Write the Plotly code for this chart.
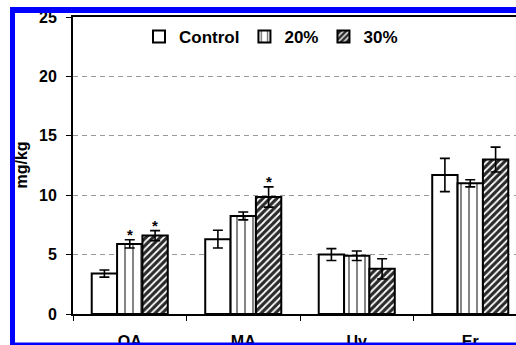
import plotly.graph_objects as go

categories = ["OA", "MA", "Uv", "Er"]
series_names = ["Control", "20%", "30%"]
control_vals = [3.4, 6.3, 5.0, 11.7]
control_err = [0.3, 0.75, 0.5, 1.4]
p20_vals = [5.9, 8.25, 4.9, 11.0]
p20_err = [0.35, 0.33, 0.4, 0.3]
p30_vals = [6.6, 9.85, 3.8, 13.0]
p30_err = [0.42, 0.85, 0.85, 1.05]
# significance marks: (series index, category index)
stars = [(1, 0), (2, 0), (2, 1)]
y_ticks = [0, 5, 10, 15, 20, 25]

values = [control_vals, p20_vals, p30_vals]
errors = [control_err, p20_err, p30_err]

FONT = "Liberation Sans, Arial, sans-serif"
W, H = 516, 345
L, T, B = 73, 17, 31
PW, PH = W - L, H - T - B
CAT_PX = 113.5
BARGAP = 0.33

styles = [
    dict(color="white", pattern=dict(shape="")),
    dict(color="white", pattern=dict(shape="|", fgcolor="black", bgcolor="white",
                                      size=8, solidity=0.2, fgopacity=0.6)),
    dict(color="#2a2a2a", pattern=dict(shape="/", fgcolor="white", bgcolor="#2a2a2a",
                                        size=5, solidity=0.35)),
]

fig = go.Figure()
for i, name in enumerate(series_names):
    fig.add_trace(go.Bar(
        x=categories, y=values[i], name=name,
        marker=dict(color=styles[i]["color"], pattern=styles[i]["pattern"],
                    line=dict(color="black", width=2)),
        error_y=dict(type="data", array=errors[i], color="black",
                     thickness=1.6, width=5, visible=True),
    ))

bw = (1 - BARGAP) / 3
annotations = []
for s, c in stars:
    annotations.append(dict(
        x=c + (s - 1) * bw, y=values[s][c] + errors[s][c], xref="x", yref="y",
        text="*", showarrow=False, yanchor="bottom", yshift=-5,
        font=dict(family=FONT, size=15, color="black", weight="bold")))

annotations.append(dict(
    x=(21 - L) / PW, y=0.5, xref="paper", yref="paper", text="mg/kg",
    textangle=-90, showarrow=False, xanchor="center", yanchor="middle",
    font=dict(family=FONT, size=16, color="black", weight="bold")))

def px_x(px):
    return (px - L) / PW

def px_y(py):
    return (H - B - py) / PH

BLUE = "#0000ff"
shapes = [
    dict(type="rect", xref="paper", yref="paper", x0=px_x(10), x1=px_x(15),
         y0=px_y(345), y1=px_y(7), fillcolor=BLUE, line=dict(width=0), layer="above"),
    dict(type="rect", xref="paper", yref="paper", x0=px_x(10), x1=px_x(516),
         y0=px_y(13), y1=px_y(7), fillcolor=BLUE, line=dict(width=0), layer="above"),
    dict(type="rect", xref="paper", yref="paper", x0=px_x(10), x1=px_x(516),
         y0=px_y(345), y1=px_y(342.5), fillcolor=BLUE, line=dict(width=0), layer="above"),
]

fig.update_layout(
    template="none",
    width=W, height=H,
    margin=dict(l=L, r=0, t=T, b=B, pad=0, autoexpand=False),
    paper_bgcolor="white", plot_bgcolor="white",
    barmode="group", bargap=BARGAP, bargroupgap=0,
    font=dict(family=FONT, color="black"),
    showlegend=True,
    legend=dict(orientation="h", x=px_x(139), y=px_y(37), xanchor="left", yanchor="middle",
                bgcolor="rgba(0,0,0,0)", font=dict(family=FONT, size=17, weight="bold"),
                itemwidth=30),
    annotations=annotations,
    shapes=shapes,
    xaxis=dict(
        range=[-0.5, -0.5 + PW / CAT_PX], automargin=False,
        showline=True, linecolor="black", linewidth=2, mirror=True,
        ticks="outside", ticklen=5, tickcolor="black", tickwidth=1,
        tickson="boundaries", showgrid=False,
        tickfont=dict(family=FONT, size=16, weight="bold"),
        ticklabelstandoff=12,
    ),
    yaxis=dict(
        range=[0, 25], tickvals=y_ticks, automargin=False,
        showline=True, linecolor="black", linewidth=2,
        ticks="outside", ticklen=5, tickcolor="black", tickwidth=1,
        showgrid=True, gridcolor="#999999", gridwidth=1, griddash="5px,4px",
        zeroline=False,
        tickfont=dict(family=FONT, size=16, weight="bold"),
        ticklabelstandoff=6,
    ),
)

fig.write_html(
    "out.html",
    config={"displayModeBar": False},
    post_script="document.body.style.margin='0px';document.body.style.overflow='hidden';",
)
